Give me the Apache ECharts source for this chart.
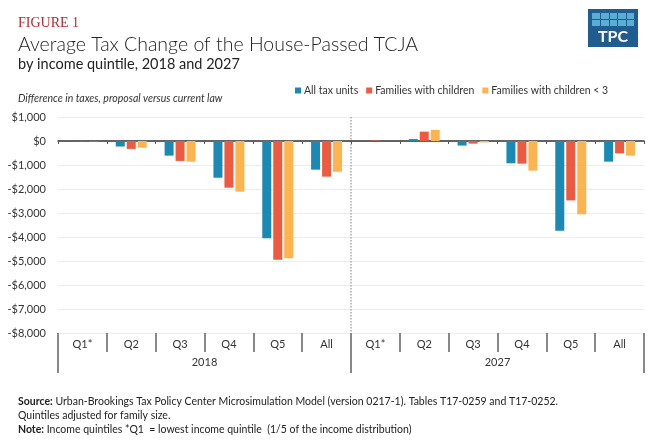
<!DOCTYPE html>
<html>
<head>
<meta charset="utf-8">
<script src="https://cdn.jsdelivr.net/npm/echarts@6/dist/echarts.min.js"></script>
<style>
  html, body { margin: 0; padding: 0; background: #fff; }
  #chart { width: 665px; height: 440px; }
</style>
</head>
<body>
<div id="chart"></div>
<script>
// 数据
var quintiles = ['Q1*', 'Q2', 'Q3', 'Q4', 'Q5', 'All'];
var years = ['2018', '2027'];
var seriesNames = ['All tax units', 'Families with children', 'Families with children < 3'];
var allTaxUnits = [-10, -230, -610, -1530, -4055, -1195, 0, 80, -190, -930, -3735, -860];
var familiesWithChildren = [-15, -330, -830, -1945, -4945, -1485, 25, 390, -110, -945, -2475, -515];
var familiesUnder3 = [-10, -280, -860, -2110, -4890, -1280, 0, 460, -60, -1235, -3055, -610];
var yTicks = { min: -8000, max: 1000, interval: 1000 };

var categories = quintiles.concat(quintiles);
var colors = ['#1a8ab4', '#ee5a3f', '#fdb44e'];
var font = 'Lato, "Open Sans", sans-serif';

function money(v) {
	return (v < 0 ? '-' : '') + '$' + Math.abs(v).toLocaleString('en-US');
}

var myChart = echarts.init(document.getElementById('chart'));
myChart.setOption({
	animation: false,
	color: colors,
	title: [
		{ text: 'FIGURE 1', left: 13, top: 11, textStyle: { fontFamily: '"Liberation Serif", serif', fontSize: 14, fontWeight: 'normal', color: '#c1272d' } },
		{ text: 'Average Tax Change of the House-Passed TCJA', left: 13, top: 30, textStyle: { fontFamily: font, fontSize: 19.5, fontWeight: 300, color: '#222' } },
		{ text: 'by income quintile, 2018 and 2027', left: 13, top: 52, textStyle: { fontFamily: font, fontSize: 14.5, fontWeight: 'normal', color: '#222' } },
		{ text: 'Difference in taxes, proposal versus current law', left: 13, top: 88, textStyle: { fontFamily: font, fontSize: 10.5, fontStyle: 'italic', fontWeight: 'normal', color: '#333' } },
		{
			text: '{b|Source:} Urban-Brookings Tax Policy Center Microsimulation Model (version 0217-1). Tables T17-0259 and T17-0252.\nQuintiles adjusted for family size.\n{b|Note:} Income quintiles *Q1  = lowest income quintile  (1/5 of the income distribution)',
			left: 13, top: 390,
			textStyle: {
				fontFamily: font, fontSize: 10.5, fontWeight: 'normal', color: '#222', lineHeight: 14,
				rich: { b: { fontFamily: font, fontSize: 10.5, fontWeight: 'bold', color: '#222' } }
			}
		}
	],
	legend: {
		data: seriesNames,
		left: 295, top: 85,
		icon: 'rect', itemWidth: 6, itemHeight: 6, itemGap: 8, padding: 0,
		textStyle: { fontFamily: font, fontSize: 10.5, color: '#333', padding: [0, 0, 0, -2] }
	},
	graphic: [
		{
			type: 'group', left: 588, top: 9,
			children: [
				{ type: 'rect', shape: { x: 0, y: 0, width: 50, height: 38 }, style: { fill: '#1f5c8f' } },
				{ type: 'rect', shape: { x: 4, y: 4, width: 42, height: 13 }, style: { fill: '#5aaed6' } },
				{ type: 'rect', shape: { x: 4, y: 10, width: 42, height: 1 }, style: { fill: '#1f5c8f' } },
				{ type: 'rect', shape: { x: 12, y: 4, width: 1, height: 13 }, style: { fill: '#1f5c8f' } },
				{ type: 'rect', shape: { x: 21, y: 4, width: 1, height: 13 }, style: { fill: '#1f5c8f' } },
				{ type: 'rect', shape: { x: 29, y: 4, width: 1, height: 13 }, style: { fill: '#1f5c8f' } },
				{ type: 'rect', shape: { x: 38, y: 4, width: 1, height: 13 }, style: { fill: '#1f5c8f' } },
				{ type: 'text', style: { text: 'TPC', x: 25, y: 20, align: 'center', fill: '#fff', font: 'bold 16px ' + font } }
			]
		}
	],
	grid: { left: 58, right: 21, top: 117, bottom: 107, containLabel: false },
	xAxis: [
		{
			type: 'category', data: categories,
			axisLine: { onZero: true, lineStyle: { color: '#333', width: 1.5 } },
			axisTick: { show: true, length: 3, lineStyle: { color: '#555' } },
			axisLabel: { show: false },
			splitLine: { show: false }
		},
		{
			type: 'category', data: categories, position: 'bottom',
			axisLine: { show: false, onZero: false },
			axisTick: { show: true, length: 19, lineStyle: { color: '#888', width: 2 } },
			axisLabel: { show: true, margin: 6, fontFamily: font, fontSize: 11, color: '#333' },
			splitLine: { show: false }
		},
		{
			type: 'category', data: years, position: 'bottom',
			axisLine: { show: false, onZero: false },
			axisTick: { show: true, length: 40, lineStyle: { color: '#888', width: 2 } },
			axisLabel: { show: true, margin: 24, fontFamily: font, fontSize: 11, color: '#333' },
			splitLine: { show: false }
		},
		{
			// 中间的虚线分隔
			type: 'category', data: ['', '', ''], boundaryGap: false, position: 'top',
			axisLine: { show: false }, axisTick: { show: false }, axisLabel: { show: false },
			splitLine: { show: true, interval: function (i) { return i === 1; }, lineStyle: { color: '#aaa', type: 'dotted', width: 1.5 } }
		}
	],
	yAxis: {
		type: 'value', min: yTicks.min, max: yTicks.max, interval: yTicks.interval,
		axisLine: { show: false }, axisTick: { show: false },
		axisLabel: { margin: 12, fontFamily: font, fontSize: 11, color: '#333', formatter: money },
		splitLine: { lineStyle: { color: '#ececec', width: 1 } }
	},
	series: [
		{ name: seriesNames[0], type: 'bar', xAxisIndex: 0, data: allTaxUnits, barWidth: 9, barGap: '22%' },
		{ name: seriesNames[1], type: 'bar', xAxisIndex: 0, data: familiesWithChildren, barWidth: 9, barGap: '22%' },
		{ name: seriesNames[2], type: 'bar', xAxisIndex: 0, data: familiesUnder3, barWidth: 9, barGap: '22%' }
	]
});
</script>
</body>
</html>
